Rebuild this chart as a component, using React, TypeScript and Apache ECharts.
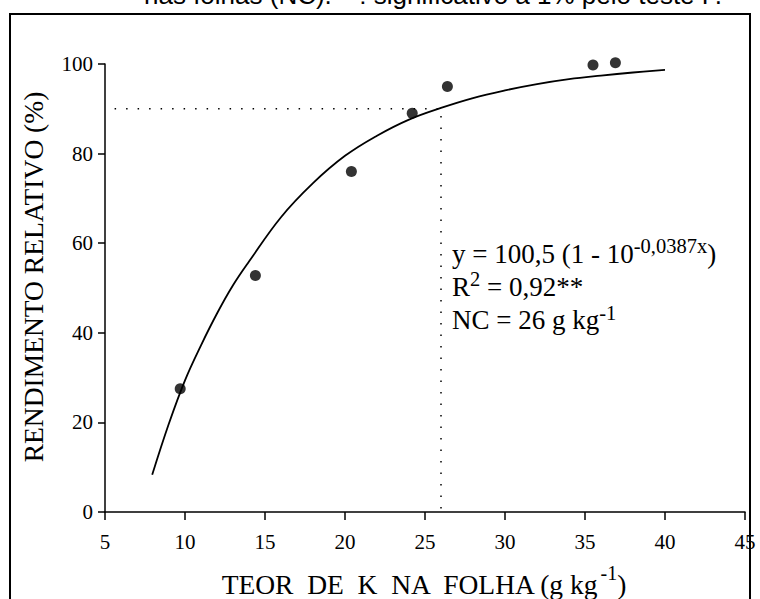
import React, { useEffect, useRef } from "react";
import * as echarts from "echarts";

const pointsX = [9.7, 14.4, 20.4, 24.2, 26.4, 35.5, 36.9];
const pointsY = [27.5, 52.8, 76.0, 89.0, 95.0, 99.8, 100.3];

const curveX = [7.95, 9, 10, 11, 12, 13, 14, 16, 18, 20, 22, 24, 26, 28, 30, 32, 34, 36, 38, 40];
const curveY = [8.3, 19.8, 29.4, 37.2, 44.3, 50.6, 55.9, 65.8, 73.4, 79.5, 84.0, 87.6, 90.2, 92.4, 94.1, 95.5, 96.6, 97.4, 98.1, 98.7];

const guideX = [5.6, 26, 26];
const guideY = [90, 90, 0];

const xTicks = [5, 10, 15, 20, 25, 30, 35, 40, 45];
const yTicks = [0, 20, 40, 60, 80, 100];

const SERIF = "'Liberation Serif', 'Times New Roman', serif";
const SANS = "'Liberation Sans', Arial, sans-serif";

type Seg = { t: string; sup?: boolean };

let ctx: CanvasRenderingContext2D | null = null;
function measure(text: string, size: number, family: string) {
  if (!ctx) ctx = document.createElement("canvas").getContext("2d");
  if (!ctx) return text.length * size * 0.5;
  ctx.font = `${size}px ${family}`;
  return ctx.measureText(text).width;
}

function richLine(
  segs: Seg[],
  x: number,
  y: number,
  size: number,
  supSize: number,
  supDy: number,
  anchor: "left" | "center"
) {
  const widths = segs.map((s) => measure(s.t, s.sup ? supSize : size, SERIF));
  const total = widths.reduce((a, b) => a + b, 0);
  let cx = anchor === "center" ? x - total / 2 : x;
  const out: any[] = [];
  segs.forEach((s, i) => {
    out.push({
      type: "text",
      x: cx,
      y: s.sup ? y + supDy : y,
      silent: true,
      style: {
        text: s.t,
        fontFamily: SERIF,
        fontSize: s.sup ? supSize : size,
        fill: "#000",
        align: "left",
        verticalAlign: "middle",
      },
    });
    cx += widths[i];
  });
  return out;
}

export default function App() {
  const ref = useRef<HTMLDivElement>(null);
  useEffect(() => {
    if (!ref.current) return;
    const chart = echarts.init(ref.current, null, { renderer: "svg" });
    const axisLine = { show: true, lineStyle: { color: "#000", width: 1.5 } };
    const eqSize = 27;
    const eqSup = 20.5;
    chart.setOption({
      animation: false,
      backgroundColor: "#fff",
      grid: { left: 105, right: 15, top: 64, bottom: 87, containLabel: false },
      xAxis: {
        type: "value",
        min: xTicks[0],
        max: xTicks[xTicks.length - 1],
        interval: 5,
        axisLine,
        axisTick: { show: true, inside: false, length: 8, lineStyle: { color: "#000", width: 1.5 } },
        axisLabel: { color: "#000", fontFamily: SERIF, fontSize: 21, margin: 19 },
        splitLine: { show: false },
      },
      yAxis: {
        type: "value",
        min: yTicks[0],
        max: yTicks[yTicks.length - 1],
        interval: 20,
        axisLine,
        axisTick: { show: true, inside: false, length: 7, lineStyle: { color: "#000", width: 1.5 } },
        axisLabel: { color: "#000", fontFamily: SERIF, fontSize: 21, margin: 12 },
        splitLine: { show: false },
      },
      series: [
        {
          type: "line",
          data: guideX.map((x, i) => [x, guideY[i]]),
          symbol: "none",
          lineStyle: { color: "#000", width: 1.5, type: [1.5, 10] },
          silent: true,
          z: 1,
        },
        {
          type: "line",
          data: curveX.map((x, i) => [x, curveY[i]]),
          smooth: 0.4,
          symbol: "none",
          lineStyle: { color: "#000", width: 1.8 },
          silent: true,
          z: 2,
        },
        {
          type: "scatter",
          data: pointsX.map((x, i) => [x, pointsY[i]]),
          symbol: "circle",
          symbolSize: 11,
          itemStyle: { color: "#000" },
          clip: false,
          z: 3,
        },
      ],
      graphic: [
        {
          type: "rect",
          shape: { x: 10, y: 14, width: 740, height: 600 },
          style: { fill: "none", stroke: "#000", lineWidth: 2 },
          silent: true,
        },
        {
          type: "text",
          x: 433,
          y: 8,
          silent: true,
          style: {
            text: "nas folhas (NC). **: significativo a 1% pelo teste F.",
            fontFamily: SANS,
            fontSize: 26,
            fill: "#000",
            align: "center",
            verticalAlign: "bottom",
          },
        },
        ...richLine([{ t: "y = 100,5 (1 - 10" }, { t: "-0,0387x", sup: true }, { t: ")" }], 452, 254, eqSize, eqSup, -8.5, "left"),
        ...richLine([{ t: "R" }, { t: "2", sup: true }, { t: " = 0,92**" }], 452, 287, eqSize, eqSup, -8, "left"),
        ...richLine([{ t: "NC = 26 g kg" }, { t: "-1", sup: true }], 452, 320, eqSize, eqSup, -7, "left"),
        ...richLine(
          [{ t: "TEOR  DE  K  NA  FOLHA (g kg" }, { t: "-1", sup: true }, { t: ")" }],
          424,
          584,
          27.5,
          20,
          -11,
          "center"
        ),
        {
          type: "text",
          x: 33,
          y: 277,
          rotation: Math.PI / 2,
          silent: true,
          style: {
            text: "RENDIMENTO RELATIVO (%)",
            fontFamily: SERIF,
            fontSize: 27.5,
            fill: "#000",
            align: "center",
            verticalAlign: "middle",
          },
        },
      ],
    });
    return () => chart.dispose();
  }, []);
  return <div ref={ref} style={{ width: 760, height: 599, position: "absolute", left: 0, top: 0 }} />;
}
